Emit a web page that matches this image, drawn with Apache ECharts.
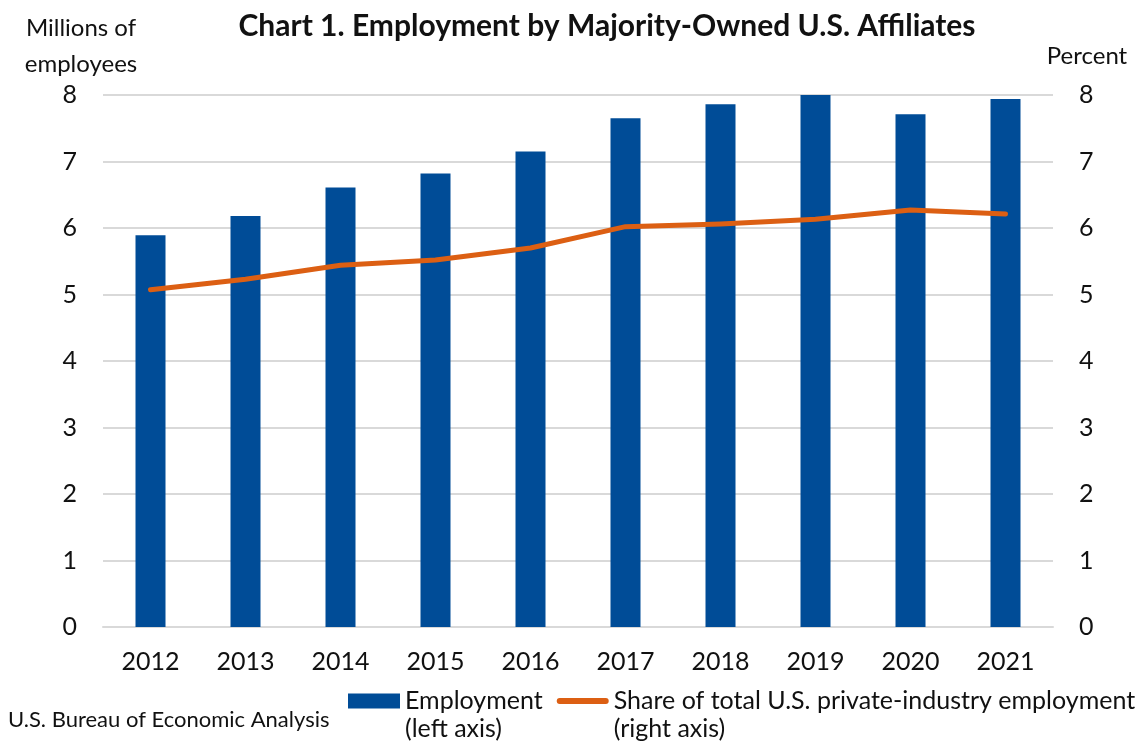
<!DOCTYPE html>
<html>
<head>
<meta charset="utf-8">
<script src="https://cdn.jsdelivr.net/npm/echarts@6/dist/echarts.min.js"></script>
<style>
  html, body { margin: 0; padding: 0; background: #fff; }
  #chart { width: 1138px; height: 744px; }
</style>
</head>
<body>
<div id="chart"></div>
<script>
var years = ['2012', '2013', '2014', '2015', '2016', '2017', '2018', '2019', '2020', '2021'];
var employment = [5.89, 6.18, 6.61, 6.82, 7.15, 7.65, 7.86, 8.0, 7.71, 7.94];
var share = [5.07, 5.23, 5.44, 5.52, 5.70, 6.02, 6.06, 6.13, 6.27, 6.21];
var leftTicks = [0, 8, 1];
var rightTicks = [0, 8, 1];

var font = 'Lato, "Open Sans", sans-serif';
var ink = '#111';
var barColor = '#004C97';
var lineColor = '#DC5F13';
var rule = '#D9D9D9';

// legend icons sit level with the first line of a two-line label
var barIcon = 'path://M0,0 L0.01,0 M0,6.5 L52,6.5 L52,21.5 L0,21.5 Z M0,56 L0.01,56';
var lineIcon = 'path://M0,0 L0.01,0 M3,11 L49,11 A3,3 0 0 1 49,17 L3,17 A3,3 0 0 1 3,11 Z M0,56 L0.01,56';

var chart = echarts.init(document.getElementById('chart'), null, { renderer: 'canvas' });

chart.setOption({
  animation: false,
  textStyle: { fontFamily: font, color: ink },
  title: {
    text: 'Chart 1. Employment by Majority-Owned U.S. Affiliates',
    left: 602,
    textAlign: 'center',
    top: 6,
    textStyle: { fontFamily: font, fontSize: 30, fontWeight: 'bold', color: ink }
  },
  legend: {
    left: 348,
    top: 687,
    width: 790,
    padding: 0,
    orient: 'horizontal',
    itemWidth: 52,
    itemHeight: 56,
    itemGap: 14,
    itemStyle: { borderWidth: 0 },
    textStyle: { fontFamily: font, fontSize: 25, color: ink, lineHeight: 28 },
    data: [
      { name: 'Employment\n(left axis)', icon: barIcon },
      { name: 'Share of total U.S. private-industry employment\n(right axis)', icon: lineIcon }
    ]
  },
  graphic: [{
    type: 'text',
    left: 8,
    top: 709,
    style: { text: 'U.S. Bureau of Economic Analysis', fontFamily: font, fontSize: 22, fill: ink }
  }],
  grid: { left: 103, right: 85, top: 95, bottom: 117 },
  xAxis: {
    type: 'category',
    data: years,
    axisLine: { lineStyle: { color: rule, width: 2 } },
    axisTick: { show: false },
    axisLabel: { color: ink, fontSize: 25, fontFamily: font, margin: 22 }
  },
  yAxis: [{
    type: 'value',
    min: leftTicks[0],
    max: leftTicks[1],
    interval: leftTicks[2],
    name: 'Millions of\nemployees',
    nameLocation: 'end',
    nameGap: 9,
    nameTextStyle: { fontFamily: font, fontSize: 24, color: ink, lineHeight: 36, align: 'center', padding: [0, 44, 0, 0] },
    axisLine: { show: false },
    axisTick: { show: false },
    splitLine: { lineStyle: { color: rule, width: 2 } },
    axisLabel: { color: ink, fontSize: 25, fontFamily: font, margin: 26 }
  }, {
    type: 'value',
    min: rightTicks[0],
    max: rightTicks[1],
    interval: rightTicks[2],
    name: 'Percent',
    nameLocation: 'end',
    nameGap: 24,
    nameTextStyle: { fontFamily: font, fontSize: 24, color: ink, lineHeight: 30, align: 'center', padding: [0, 0, 0, 68] },
    axisLine: { show: false },
    axisTick: { show: false },
    splitLine: { show: false },
    axisLabel: { color: ink, fontSize: 25, fontFamily: font, margin: 26 }
  }],
  series: [{
    name: 'Employment\n(left axis)',
    type: 'bar',
    yAxisIndex: 0,
    data: employment,
    barWidth: 30,
    itemStyle: { color: barColor }
  }, {
    name: 'Share of total U.S. private-industry employment\n(right axis)',
    type: 'line',
    yAxisIndex: 1,
    data: share,
    symbol: 'none',
    lineStyle: { color: lineColor, width: 5, cap: 'round', join: 'round' },
    itemStyle: { color: lineColor, borderWidth: 0 }
  }]
});
</script>
</body>
</html>
